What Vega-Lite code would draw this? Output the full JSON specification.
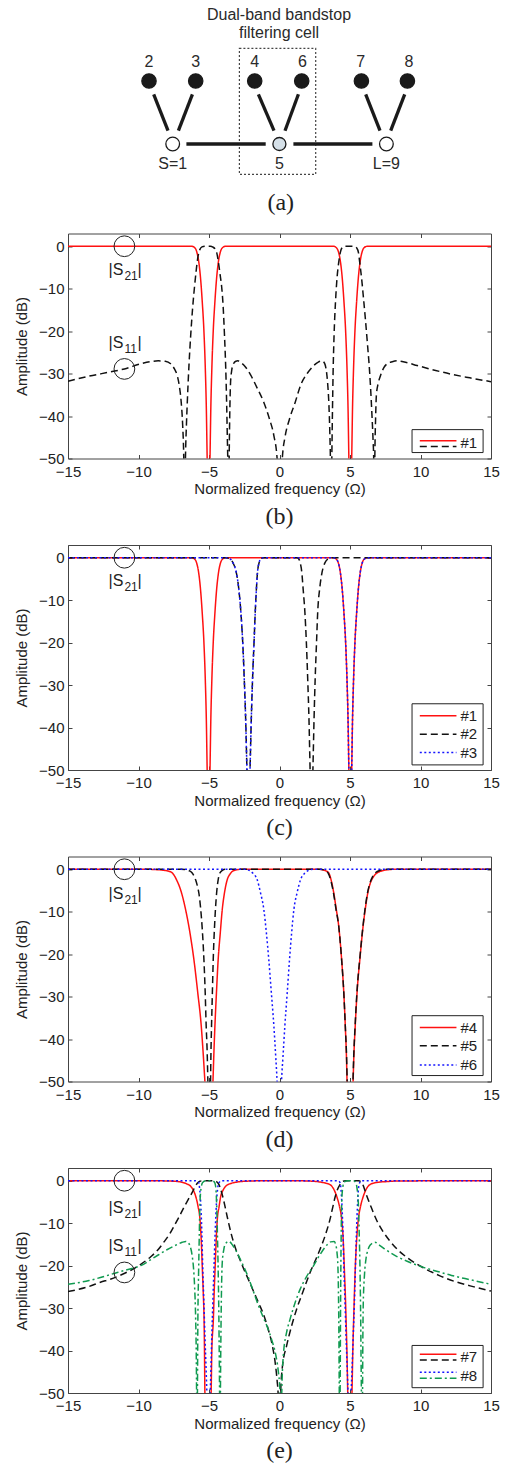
{
"$schema": "https://vega.github.io/schema/vega-lite/v6.json",
"padding": {"left": 14, "top": 0, "right": 5, "bottom": 5},
"background": "white",
"spacing": 15.5,
"config": {
  "view": {"stroke": null},
  "font": "Liberation Sans",
  "axis": {"labelFont": "Liberation Sans", "labelFontSize": 15, "labelColor": "#222", "titleFont": "Liberation Sans", "titleFontSize": 15, "titleFontWeight": "normal", "titleColor": "#222", "domainColor": "#444", "tickColor": "#444", "grid": false, "tickSize": -4},
  "text": {"font": "Liberation Sans", "color": "#222"}
},
"datasets": {
  "nodes": [
    {"id": "2", "kind": "res", "x": 8.10, "y": 8.1},
    {"id": "3", "kind": "res", "x": 12.77, "y": 8.1},
    {"id": "4", "kind": "res", "x": 18.67, "y": 8.1},
    {"id": "6", "kind": "res", "x": 23.37, "y": 8.1},
    {"id": "7", "kind": "res", "x": 29.34, "y": 8.1},
    {"id": "8", "kind": "res", "x": 33.94, "y": 8.1},
    {"id": "S", "kind": "port", "x": 10.47, "y": 14.4},
    {"id": "5", "kind": "nrn", "x": 21.14, "y": 14.4},
    {"id": "L", "kind": "port", "x": 31.84, "y": 14.4}
  ],
  "edges": [
    {"e": "2-S", "x": 8.57, "y": 9.43, "x2": 10.0, "y2": 13.07},
    {"e": "3-S", "x": 12.44, "y": 9.43, "x2": 11.04, "y2": 13.07},
    {"e": "4-5", "x": 19.04, "y": 9.43, "x2": 20.6, "y2": 13.07},
    {"e": "6-5", "x": 23.04, "y": 9.43, "x2": 21.7, "y2": 13.07},
    {"e": "7-L", "x": 29.77, "y": 9.43, "x2": 31.2, "y2": 13.07},
    {"e": "8-L", "x": 33.67, "y": 9.43, "x2": 32.27, "y2": 13.07},
    {"e": "S-5", "x": 11.84, "y": 14.4, "x2": 19.77, "y2": 14.4},
    {"e": "5-L", "x": 22.54, "y": 14.4, "x2": 30.44, "y2": 14.4}
  ],
  "labels": [
    {"t": "Dual-band bandstop", "x": 21.1, "y": 1.5},
    {"t": "filtering cell", "x": 21.1, "y": 3.33},
    {"t": "2", "x": 8.1, "y": 6.2},
    {"t": "3", "x": 12.77, "y": 6.2},
    {"t": "4", "x": 18.67, "y": 6.2},
    {"t": "6", "x": 23.44, "y": 6.2},
    {"t": "7", "x": 29.27, "y": 6.2},
    {"t": "8", "x": 34.1, "y": 6.2},
    {"t": "S=1", "x": 10.47, "y": 16.35},
    {"t": "5", "x": 21.14, "y": 16.35},
    {"t": "L=9", "x": 31.84, "y": 16.35}
  ],
  "curves": [
{"s":"1s21","x":-15,"y":0},{"s":"1s21","x":-8,"y":0},{"s":"1s21","x":-6.23,"y":0},{"s":"1s21","x":-6.03,"y":-0.3},{"s":"1s21","x":-5.88,"y":-1.2},{"s":"1s21","x":-5.73,"y":-3.6},{"s":"1s21","x":-5.6,"y":-7.5},{"s":"1s21","x":-5.48,"y":-13},{"s":"1s21","x":-5.36,"y":-20},{"s":"1s21","x":-5.26,"y":-29},{"s":"1s21","x":-5.19,"y":-38},{"s":"1s21","x":-5.13,"y":-50},{"s":"1s21","x":-5.03,"y":-65},{"s":"1s21","x":-4.93,"y":-50},{"s":"1s21","x":-4.87,"y":-38},{"s":"1s21","x":-4.8,"y":-29},{"s":"1s21","x":-4.7,"y":-20},{"s":"1s21","x":-4.58,"y":-13},{"s":"1s21","x":-4.46,"y":-7.5},{"s":"1s21","x":-4.33,"y":-3.6},{"s":"1s21","x":-4.18,"y":-1.2},{"s":"1s21","x":-4.03,"y":-0.3},{"s":"1s21","x":-3.83,"y":0},{"s":"1s21","x":0,"y":0},{"s":"1s21","x":3.82,"y":0},{"s":"1s21","x":4.02,"y":-0.3},{"s":"1s21","x":4.17,"y":-1.2},{"s":"1s21","x":4.32,"y":-3.6},{"s":"1s21","x":4.45,"y":-7.5},{"s":"1s21","x":4.57,"y":-13},{"s":"1s21","x":4.69,"y":-20},{"s":"1s21","x":4.79,"y":-29},{"s":"1s21","x":4.86,"y":-38},{"s":"1s21","x":4.92,"y":-50},{"s":"1s21","x":5.02,"y":-65},{"s":"1s21","x":5.12,"y":-50},{"s":"1s21","x":5.18,"y":-38},{"s":"1s21","x":5.25,"y":-29},{"s":"1s21","x":5.35,"y":-20},{"s":"1s21","x":5.47,"y":-13},{"s":"1s21","x":5.59,"y":-7.5},{"s":"1s21","x":5.72,"y":-3.6},{"s":"1s21","x":5.87,"y":-1.2},{"s":"1s21","x":6.02,"y":-0.3},{"s":"1s21","x":6.22,"y":0},{"s":"1s21","x":15,"y":0},
{"s":"1s11","x":-15,"y":-31.8},{"s":"1s11","x":-13.5,"y":-30.6},{"s":"1s11","x":-12,"y":-29.6},{"s":"1s11","x":-11,"y":-28.9},{"s":"1s11","x":-9.85,"y":-27.7},{"s":"1s11","x":-9.2,"y":-27.2},{"s":"1s11","x":-8.6,"y":-27.0},{"s":"1s11","x":-8.1,"y":-27.1},{"s":"1s11","x":-7.72,"y":-27.7},{"s":"1s11","x":-7.45,"y":-28.9},{"s":"1s11","x":-7.25,"y":-30.5},{"s":"1s11","x":-7.1,"y":-33},{"s":"1s11","x":-6.97,"y":-36.8},{"s":"1s11","x":-6.87,"y":-42},{"s":"1s11","x":-6.79,"y":-50},{"s":"1s11","x":-6.73,"y":-65},{"s":"1s11","x":-6.67,"y":-50},{"s":"1s11","x":-6.6,"y":-42},{"s":"1s11","x":-6.54,"y":-36.8},{"s":"1s11","x":-6.42,"y":-28},{"s":"1s11","x":-6.3,"y":-21.1},{"s":"1s11","x":-6.16,"y":-14.5},{"s":"1s11","x":-6.02,"y":-9.3},{"s":"1s11","x":-5.9,"y":-5.5},{"s":"1s11","x":-5.79,"y":-2.6},{"s":"1s11","x":-5.65,"y":-0.8},{"s":"1s11","x":-5.5,"y":-0.15},{"s":"1s11","x":-5.3,"y":0},{"s":"1s11","x":-4.9,"y":0},{"s":"1s11","x":-4.72,"y":-0.2},{"s":"1s11","x":-4.58,"y":-0.6},{"s":"1s11","x":-4.46,"y":-1.4},{"s":"1s11","x":-4.3,"y":-4.5},{"s":"1s11","x":-4.2,"y":-7},{"s":"1s11","x":-4.11,"y":-9.3},{"s":"1s11","x":-4.0,"y":-14},{"s":"1s11","x":-3.9,"y":-21.1},{"s":"1s11","x":-3.82,"y":-28},{"s":"1s11","x":-3.75,"y":-36.8},{"s":"1s11","x":-3.7,"y":-45},{"s":"1s11","x":-3.67,"y":-50},{"s":"1s11","x":-3.62,"y":-65},{"s":"1s11","x":-3.57,"y":-50},{"s":"1s11","x":-3.53,"y":-40},{"s":"1s11","x":-3.47,"y":-32},{"s":"1s11","x":-3.4,"y":-29.5},{"s":"1s11","x":-3.28,"y":-27.8},{"s":"1s11","x":-3.1,"y":-27.1},{"s":"1s11","x":-2.95,"y":-27.0},{"s":"1s11","x":-2.7,"y":-27.5},{"s":"1s11","x":-2.4,"y":-28.5},{"s":"1s11","x":-2.05,"y":-30.3},{"s":"1s11","x":-1.6,"y":-33.3},{"s":"1s11","x":-1.11,"y":-36.8},{"s":"1s11","x":-0.7,"y":-40.8},{"s":"1s11","x":-0.4,"y":-44.6},{"s":"1s11","x":-0.17,"y":-50},{"s":"1s11","x":0.02,"y":-65},{"s":"1s11","x":0.2,"y":-50},{"s":"1s11","x":0.4,"y":-44.8},{"s":"1s11","x":0.7,"y":-40.8},{"s":"1s11","x":1.11,"y":-36.8},{"s":"1s11","x":1.49,"y":-32.8},{"s":"1s11","x":2.0,"y":-29.8},{"s":"1s11","x":2.4,"y":-28.2},{"s":"1s11","x":2.75,"y":-27.3},{"s":"1s11","x":3.03,"y":-27.0},{"s":"1s11","x":3.2,"y":-27.6},{"s":"1s11","x":3.33,"y":-29.5},{"s":"1s11","x":3.42,"y":-32.5},{"s":"1s11","x":3.5,"y":-37},{"s":"1s11","x":3.57,"y":-44},{"s":"1s11","x":3.61,"y":-50},{"s":"1s11","x":3.66,"y":-65},{"s":"1s11","x":3.71,"y":-50},{"s":"1s11","x":3.76,"y":-38},{"s":"1s11","x":3.8,"y":-30},{"s":"1s11","x":3.87,"y":-21},{"s":"1s11","x":3.97,"y":-13.2},{"s":"1s11","x":4.08,"y":-7.5},{"s":"1s11","x":4.2,"y":-3.8},{"s":"1s11","x":4.32,"y":-1.4},{"s":"1s11","x":4.45,"y":-0.3},{"s":"1s11","x":4.6,"y":0},{"s":"1s11","x":5.3,"y":0},{"s":"1s11","x":5.48,"y":-0.4},{"s":"1s11","x":5.6,"y":-1.5},{"s":"1s11","x":5.69,"y":-3.8},{"s":"1s11","x":5.82,"y":-7.5},{"s":"1s11","x":5.95,"y":-12},{"s":"1s11","x":6.09,"y":-17.1},{"s":"1s11","x":6.25,"y":-23.5},{"s":"1s11","x":6.38,"y":-29},{"s":"1s11","x":6.47,"y":-34},{"s":"1s11","x":6.56,"y":-40},{"s":"1s11","x":6.64,"y":-46},{"s":"1s11","x":6.68,"y":-50},{"s":"1s11","x":6.72,"y":-65},{"s":"1s11","x":6.76,"y":-50},{"s":"1s11","x":6.82,"y":-40},{"s":"1s11","x":6.87,"y":-35.1},{"s":"1s11","x":7.0,"y":-32.3},{"s":"1s11","x":7.16,"y":-30.5},{"s":"1s11","x":7.4,"y":-28.6},{"s":"1s11","x":7.63,"y":-27.7},{"s":"1s11","x":8.0,"y":-27.2},{"s":"1s11","x":8.34,"y":-27.0},{"s":"1s11","x":9.0,"y":-27.4},{"s":"1s11","x":9.76,"y":-28.1},{"s":"1s11","x":11,"y":-29.2},{"s":"1s11","x":12.12,"y":-30.1},{"s":"1s11","x":13.5,"y":-31.0},{"s":"1s11","x":15,"y":-31.9},
{"s":"2s21","x":-15,"y":0},{"s":"2s21","x":-3.8,"y":0},{"s":"2s21","x":-3.5,"y":-0.3},{"s":"2s21","x":-3.3,"y":-1.2},{"s":"2s21","x":-3.07,"y":-3.4},{"s":"2s21","x":-2.9,"y":-7},{"s":"2s21","x":-2.74,"y":-12.8},{"s":"2s21","x":-2.6,"y":-20.5},{"s":"2s21","x":-2.5,"y":-28.5},{"s":"2s21","x":-2.4,"y":-38},{"s":"2s21","x":-2.31,"y":-50},{"s":"2s21","x":-2.2,"y":-65},{"s":"2s21","x":-2.09,"y":-50},{"s":"2s21","x":-2.0,"y":-38},{"s":"2s21","x":-1.91,"y":-28.5},{"s":"2s21","x":-1.8,"y":-19.5},{"s":"2s21","x":-1.72,"y":-12.8},{"s":"2s21","x":-1.64,"y":-7.5},{"s":"2s21","x":-1.56,"y":-3.4},{"s":"2s21","x":-1.45,"y":-1.2},{"s":"2s21","x":-1.33,"y":-0.3},{"s":"2s21","x":-1.15,"y":0},{"s":"2s21","x":1.25,"y":0},{"s":"2s21","x":1.37,"y":-0.3},{"s":"2s21","x":1.47,"y":-1.2},{"s":"2s21","x":1.58,"y":-3.4},{"s":"2s21","x":1.68,"y":-7.5},{"s":"2s21","x":1.8,"y":-12.8},{"s":"2s21","x":1.9,"y":-19.5},{"s":"2s21","x":2.0,"y":-28.5},{"s":"2s21","x":2.09,"y":-38},{"s":"2s21","x":2.17,"y":-50},{"s":"2s21","x":2.27,"y":-65},{"s":"2s21","x":2.37,"y":-50},{"s":"2s21","x":2.45,"y":-38},{"s":"2s21","x":2.53,"y":-28.5},{"s":"2s21","x":2.62,"y":-20.5},{"s":"2s21","x":2.71,"y":-12.8},{"s":"2s21","x":2.86,"y":-7},{"s":"2s21","x":3.02,"y":-3.4},{"s":"2s21","x":3.22,"y":-1.2},{"s":"2s21","x":3.42,"y":-0.3},{"s":"2s21","x":3.7,"y":0},{"s":"2s21","x":15,"y":0},
{"s":"3s21","x":-15,"y":0},{"s":"3s21","x":-3.8,"y":0},{"s":"3s21","x":-3.5,"y":-0.3},{"s":"3s21","x":-3.3,"y":-1.2},{"s":"3s21","x":-3.07,"y":-3.4},{"s":"3s21","x":-2.9,"y":-7},{"s":"3s21","x":-2.74,"y":-12.8},{"s":"3s21","x":-2.6,"y":-20.5},{"s":"3s21","x":-2.5,"y":-28.5},{"s":"3s21","x":-2.4,"y":-38},{"s":"3s21","x":-2.31,"y":-50},{"s":"3s21","x":-2.2,"y":-65},{"s":"3s21","x":-2.09,"y":-50},{"s":"3s21","x":-2.0,"y":-38},{"s":"3s21","x":-1.91,"y":-28.5},{"s":"3s21","x":-1.8,"y":-19.5},{"s":"3s21","x":-1.72,"y":-12.8},{"s":"3s21","x":-1.64,"y":-7.5},{"s":"3s21","x":-1.56,"y":-3.4},{"s":"3s21","x":-1.45,"y":-1.2},{"s":"3s21","x":-1.33,"y":-0.3},{"s":"3s21","x":-1.15,"y":0},{"s":"3s21","x":3.82,"y":0},{"s":"3s21","x":4.02,"y":-0.3},{"s":"3s21","x":4.17,"y":-1.2},{"s":"3s21","x":4.32,"y":-3.6},{"s":"3s21","x":4.45,"y":-7.5},{"s":"3s21","x":4.57,"y":-13},{"s":"3s21","x":4.69,"y":-20},{"s":"3s21","x":4.79,"y":-29},{"s":"3s21","x":4.86,"y":-38},{"s":"3s21","x":4.92,"y":-50},{"s":"3s21","x":5.02,"y":-65},{"s":"3s21","x":5.12,"y":-50},{"s":"3s21","x":5.18,"y":-38},{"s":"3s21","x":5.25,"y":-29},{"s":"3s21","x":5.35,"y":-20},{"s":"3s21","x":5.47,"y":-13},{"s":"3s21","x":5.59,"y":-7.5},{"s":"3s21","x":5.72,"y":-3.6},{"s":"3s21","x":5.87,"y":-1.2},{"s":"3s21","x":6.02,"y":-0.3},{"s":"3s21","x":6.22,"y":0},{"s":"3s21","x":15,"y":0},
{"s":"4s21","x":-15,"y":0},{"s":"4s21","x":-9.5,"y":0},{"s":"4s21","x":-8.7,"y":-0.1},{"s":"4s21","x":-8.2,"y":-0.25},{"s":"4s21","x":-7.72,"y":-0.6},{"s":"4s21","x":-7.5,"y":-1.3},{"s":"4s21","x":-7.3,"y":-2.5},{"s":"4s21","x":-7.0,"y":-5.0},{"s":"4s21","x":-6.66,"y":-9.5},{"s":"4s21","x":-6.35,"y":-15},{"s":"4s21","x":-6.07,"y":-21.3},{"s":"4s21","x":-5.8,"y":-29},{"s":"4s21","x":-5.55,"y":-36.9},{"s":"4s21","x":-5.42,"y":-43},{"s":"4s21","x":-5.29,"y":-50},{"s":"4s21","x":-5.0,"y":-65},{"s":"4s21","x":-4.72,"y":-50},{"s":"4s21","x":-4.65,"y":-43},{"s":"4s21","x":-4.58,"y":-36.9},{"s":"4s21","x":-4.47,"y":-29},{"s":"4s21","x":-4.35,"y":-21.3},{"s":"4s21","x":-4.2,"y":-15},{"s":"4s21","x":-4.06,"y":-9.5},{"s":"4s21","x":-3.9,"y":-5.5},{"s":"4s21","x":-3.71,"y":-2.5},{"s":"4s21","x":-3.5,"y":-1.1},{"s":"4s21","x":-3.3,"y":-0.4},{"s":"4s21","x":-3.0,"y":-0.1},{"s":"4s21","x":-2.6,"y":0},{"s":"4s21","x":2.6,"y":0},{"s":"4s21","x":3.02,"y":-0.1},{"s":"4s21","x":3.3,"y":-0.4},{"s":"4s21","x":3.5,"y":-0.9},{"s":"4s21","x":3.68,"y":-2.8},{"s":"4s21","x":3.85,"y":-5.6},{"s":"4s21","x":4.02,"y":-9.3},{"s":"4s21","x":4.2,"y":-13.4},{"s":"4s21","x":4.4,"y":-21},{"s":"4s21","x":4.56,"y":-29.1},{"s":"4s21","x":4.68,"y":-38},{"s":"4s21","x":4.75,"y":-44.4},{"s":"4s21","x":4.79,"y":-50},{"s":"4s21","x":5.0,"y":-65},{"s":"4s21","x":5.22,"y":-50},{"s":"4s21","x":5.27,"y":-44.4},{"s":"4s21","x":5.37,"y":-37},{"s":"4s21","x":5.5,"y":-29.1},{"s":"4s21","x":5.72,"y":-20.5},{"s":"4s21","x":5.93,"y":-13.4},{"s":"4s21","x":6.1,"y":-9.0},{"s":"4s21","x":6.26,"y":-5.6},{"s":"4s21","x":6.45,"y":-3.2},{"s":"4s21","x":6.68,"y":-1.7},{"s":"4s21","x":6.9,"y":-0.9},{"s":"4s21","x":7.16,"y":-0.5},{"s":"4s21","x":7.6,"y":-0.15},{"s":"4s21","x":8.3,"y":0},{"s":"4s21","x":15,"y":0},
{"s":"5s21","x":-15,"y":0},{"s":"5s21","x":-7,"y":0},{"s":"5s21","x":-6.6,"y":-0.1},{"s":"5s21","x":-6.38,"y":-0.4},{"s":"5s21","x":-6.19,"y":-0.9},{"s":"5s21","x":-5.95,"y":-2.5},{"s":"5s21","x":-5.82,"y":-4},{"s":"5s21","x":-5.72,"y":-5.6},{"s":"5s21","x":-5.6,"y":-9},{"s":"5s21","x":-5.48,"y":-14},{"s":"5s21","x":-5.36,"y":-21.3},{"s":"5s21","x":-5.27,"y":-29},{"s":"5s21","x":-5.2,"y":-36.9},{"s":"5s21","x":-5.13,"y":-43},{"s":"5s21","x":-5.08,"y":-50},{"s":"5s21","x":-4.985,"y":-65},{"s":"5s21","x":-4.89,"y":-50},{"s":"5s21","x":-4.86,"y":-43},{"s":"5s21","x":-4.82,"y":-36.9},{"s":"5s21","x":-4.76,"y":-29},{"s":"5s21","x":-4.7,"y":-21.3},{"s":"5s21","x":-4.6,"y":-13},{"s":"5s21","x":-4.46,"y":-5.6},{"s":"5s21","x":-4.35,"y":-2.5},{"s":"5s21","x":-4.23,"y":-0.9},{"s":"5s21","x":-4.05,"y":-0.25},{"s":"5s21","x":-3.83,"y":0},{"s":"5s21","x":2.9,"y":0},{"s":"5s21","x":3.25,"y":-0.3},{"s":"5s21","x":3.45,"y":-0.9},{"s":"5s21","x":3.65,"y":-2.8},{"s":"5s21","x":3.83,"y":-5.6},{"s":"5s21","x":4.0,"y":-9.3},{"s":"5s21","x":4.2,"y":-13.4},{"s":"5s21","x":4.4,"y":-21},{"s":"5s21","x":4.56,"y":-29.1},{"s":"5s21","x":4.68,"y":-38},{"s":"5s21","x":4.76,"y":-44.4},{"s":"5s21","x":4.8,"y":-50},{"s":"5s21","x":5.01,"y":-65},{"s":"5s21","x":5.21,"y":-50},{"s":"5s21","x":5.26,"y":-44.4},{"s":"5s21","x":5.36,"y":-37},{"s":"5s21","x":5.49,"y":-29.1},{"s":"5s21","x":5.71,"y":-20.5},{"s":"5s21","x":5.92,"y":-13.4},{"s":"5s21","x":6.08,"y":-9.0},{"s":"5s21","x":6.24,"y":-5.6},{"s":"5s21","x":6.42,"y":-3.2},{"s":"5s21","x":6.62,"y":-1.6},{"s":"5s21","x":6.85,"y":-0.7},{"s":"5s21","x":7.1,"y":-0.3},{"s":"5s21","x":7.6,"y":0},{"s":"5s21","x":15,"y":0},
{"s":"6s21","x":-15,"y":0},{"s":"6s21","x":-2.5,"y":0},{"s":"6s21","x":-2.2,"y":-0.2},{"s":"6s21","x":-1.9,"y":-0.9},{"s":"6s21","x":-1.58,"y":-2.5},{"s":"6s21","x":-1.35,"y":-5.5},{"s":"6s21","x":-1.11,"y":-9.5},{"s":"6s21","x":-0.93,"y":-15},{"s":"6s21","x":-0.76,"y":-21.3},{"s":"6s21","x":-0.58,"y":-29},{"s":"6s21","x":-0.4,"y":-36.9},{"s":"6s21","x":-0.27,"y":-44},{"s":"6s21","x":-0.17,"y":-50},{"s":"6s21","x":-0.015,"y":-65},{"s":"6s21","x":0.14,"y":-50},{"s":"6s21","x":0.25,"y":-44},{"s":"6s21","x":0.38,"y":-36.9},{"s":"6s21","x":0.55,"y":-29},{"s":"6s21","x":0.71,"y":-21.3},{"s":"6s21","x":0.86,"y":-15},{"s":"6s21","x":1.02,"y":-9.5},{"s":"6s21","x":1.25,"y":-5.5},{"s":"6s21","x":1.49,"y":-2.5},{"s":"6s21","x":1.8,"y":-0.9},{"s":"6s21","x":2.1,"y":-0.2},{"s":"6s21","x":2.4,"y":0},{"s":"6s21","x":15,"y":0},
{"s":"7s21","x":-15,"y":0},{"s":"7s21","x":-9,"y":0},{"s":"7s21","x":-7.6,"y":-0.1},{"s":"7s21","x":-7.0,"y":-0.3},{"s":"7s21","x":-6.6,"y":-0.7},{"s":"7s21","x":-6.3,"y":-1.3},{"s":"7s21","x":-6.1,"y":-2.3},{"s":"7s21","x":-5.94,"y":-3.7},{"s":"7s21","x":-5.78,"y":-6},{"s":"7s21","x":-5.64,"y":-9.1},{"s":"7s21","x":-5.55,"y":-14},{"s":"7s21","x":-5.47,"y":-20.9},{"s":"7s21","x":-5.4,"y":-27},{"s":"7s21","x":-5.35,"y":-32.6},{"s":"7s21","x":-5.32,"y":-40},{"s":"7s21","x":-5.29,"y":-50},{"s":"7s21","x":-5.07,"y":-65},{"s":"7s21","x":-4.85,"y":-50},{"s":"7s21","x":-4.8,"y":-40},{"s":"7s21","x":-4.69,"y":-32.6},{"s":"7s21","x":-4.63,"y":-26},{"s":"7s21","x":-4.57,"y":-20.9},{"s":"7s21","x":-4.49,"y":-14},{"s":"7s21","x":-4.41,"y":-9.1},{"s":"7s21","x":-4.28,"y":-6},{"s":"7s21","x":-4.17,"y":-3.7},{"s":"7s21","x":-4.0,"y":-2.2},{"s":"7s21","x":-3.82,"y":-1.3},{"s":"7s21","x":-3.5,"y":-0.7},{"s":"7s21","x":-3.0,"y":-0.3},{"s":"7s21","x":-2.3,"y":-0.1},{"s":"7s21","x":-1,"y":0},{"s":"7s21","x":1,"y":0},{"s":"7s21","x":2.3,"y":-0.1},{"s":"7s21","x":2.87,"y":-0.3},{"s":"7s21","x":3.3,"y":-0.6},{"s":"7s21","x":3.58,"y":-0.9},{"s":"7s21","x":3.85,"y":-2},{"s":"7s21","x":4.06,"y":-3.7},{"s":"7s21","x":4.25,"y":-6},{"s":"7s21","x":4.41,"y":-9.1},{"s":"7s21","x":4.52,"y":-14},{"s":"7s21","x":4.6,"y":-20.9},{"s":"7s21","x":4.67,"y":-27},{"s":"7s21","x":4.72,"y":-32.6},{"s":"7s21","x":4.78,"y":-40},{"s":"7s21","x":4.84,"y":-50},{"s":"7s21","x":4.99,"y":-65},{"s":"7s21","x":5.14,"y":-50},{"s":"7s21","x":5.2,"y":-40},{"s":"7s21","x":5.26,"y":-32.6},{"s":"7s21","x":5.31,"y":-27},{"s":"7s21","x":5.37,"y":-20.9},{"s":"7s21","x":5.47,"y":-14},{"s":"7s21","x":5.59,"y":-9.1},{"s":"7s21","x":5.75,"y":-6},{"s":"7s21","x":5.94,"y":-3.7},{"s":"7s21","x":6.15,"y":-2.0},{"s":"7s21","x":6.42,"y":-0.9},{"s":"7s21","x":6.9,"y":-0.4},{"s":"7s21","x":7.6,"y":-0.2},{"s":"7s21","x":8.5,"y":-0.05},{"s":"7s21","x":15,"y":0},
{"s":"7s11","x":-15,"y":-26.1},{"s":"7s11","x":-13.5,"y":-24.9},{"s":"7s11","x":-12.7,"y":-23.9},{"s":"7s11","x":-12,"y":-23.2},{"s":"7s11","x":-10.98,"y":-21.8},{"s":"7s11","x":-9.84,"y":-19.7},{"s":"7s11","x":-9.13,"y":-17.9},{"s":"7s11","x":-8.6,"y":-16.2},{"s":"7s11","x":-8.19,"y":-14.4},{"s":"7s11","x":-7.8,"y":-12.6},{"s":"7s11","x":-7.48,"y":-10.7},{"s":"7s11","x":-7.1,"y":-8.4},{"s":"7s11","x":-6.77,"y":-6.2},{"s":"7s11","x":-6.45,"y":-4.3},{"s":"7s11","x":-6.18,"y":-2.7},{"s":"7s11","x":-6.0,"y":-1.5},{"s":"7s11","x":-5.83,"y":-0.6},{"s":"7s11","x":-5.65,"y":-0.1},{"s":"7s11","x":-5.4,"y":0},{"s":"7s11","x":-4.6,"y":0},{"s":"7s11","x":-4.35,"y":-0.6},{"s":"7s11","x":-4.2,"y":-1.7},{"s":"7s11","x":-4.06,"y":-3.3},{"s":"7s11","x":-3.9,"y":-5.5},{"s":"7s11","x":-3.7,"y":-8.6},{"s":"7s11","x":-3.4,"y":-12.8},{"s":"7s11","x":-3.11,"y":-16.0},{"s":"7s11","x":-2.8,"y":-18.6},{"s":"7s11","x":-2.52,"y":-20.9},{"s":"7s11","x":-2.2,"y":-23.3},{"s":"7s11","x":-1.81,"y":-26.3},{"s":"7s11","x":-1.45,"y":-29},{"s":"7s11","x":-1.1,"y":-31.8},{"s":"7s11","x":-0.8,"y":-35},{"s":"7s11","x":-0.51,"y":-38.8},{"s":"7s11","x":-0.3,"y":-43},{"s":"7s11","x":-0.16,"y":-47.4},{"s":"7s11","x":-0.1,"y":-50},{"s":"7s11","x":0.0,"y":-65},{"s":"7s11","x":0.08,"y":-50},{"s":"7s11","x":0.2,"y":-44},{"s":"7s11","x":0.51,"y":-38.8},{"s":"7s11","x":0.85,"y":-34.3},{"s":"7s11","x":1.22,"y":-30.2},{"s":"7s11","x":1.7,"y":-25.8},{"s":"7s11","x":2.17,"y":-21.6},{"s":"7s11","x":2.5,"y":-19.1},{"s":"7s11","x":2.87,"y":-16.2},{"s":"7s11","x":3.25,"y":-12.8},{"s":"7s11","x":3.58,"y":-9.1},{"s":"7s11","x":3.78,"y":-6.2},{"s":"7s11","x":3.94,"y":-3.9},{"s":"7s11","x":4.12,"y":-2.0},{"s":"7s11","x":4.29,"y":-0.9},{"s":"7s11","x":4.45,"y":-0.2},{"s":"7s11","x":4.7,"y":0},{"s":"7s11","x":5.6,"y":0},{"s":"7s11","x":5.83,"y":-0.4},{"s":"7s11","x":6.0,"y":-1.7},{"s":"7s11","x":6.18,"y":-3.5},{"s":"7s11","x":6.45,"y":-5.8},{"s":"7s11","x":6.89,"y":-9.3},{"s":"7s11","x":7.35,"y":-12},{"s":"7s11","x":7.83,"y":-14.2},{"s":"7s11","x":8.4,"y":-16.3},{"s":"7s11","x":9.01,"y":-18.0},{"s":"7s11","x":10.2,"y":-20.5},{"s":"7s11","x":11.38,"y":-22.4},{"s":"7s11","x":12.5,"y":-23.8},{"s":"7s11","x":13.8,"y":-25.0},{"s":"7s11","x":15,"y":-26.0},
{"s":"8s21","x":-15,"y":0},{"s":"8s21","x":-6,"y":0},{"s":"8s21","x":-5.75,"y":-0.3},{"s":"8s21","x":-5.66,"y":-2},{"s":"8s21","x":-5.59,"y":-5.2},{"s":"8s21","x":-5.51,"y":-12},{"s":"8s21","x":-5.44,"y":-20.9},{"s":"8s21","x":-5.36,"y":-29},{"s":"8s21","x":-5.29,"y":-36.5},{"s":"8s21","x":-5.21,"y":-44},{"s":"8s21","x":-5.15,"y":-50},{"s":"8s21","x":-5.03,"y":-65},{"s":"8s21","x":-4.91,"y":-50},{"s":"8s21","x":-4.86,"y":-44},{"s":"8s21","x":-4.8,"y":-36.5},{"s":"8s21","x":-4.73,"y":-29},{"s":"8s21","x":-4.65,"y":-20.9},{"s":"8s21","x":-4.56,"y":-12},{"s":"8s21","x":-4.47,"y":-5.2},{"s":"8s21","x":-4.39,"y":-2},{"s":"8s21","x":-4.3,"y":-0.5},{"s":"8s21","x":-4.1,"y":0},{"s":"8s21","x":4.15,"y":0},{"s":"8s21","x":4.3,"y":-0.5},{"s":"8s21","x":4.36,"y":-2},{"s":"8s21","x":4.42,"y":-5.2},{"s":"8s21","x":4.5,"y":-12},{"s":"8s21","x":4.57,"y":-20.9},{"s":"8s21","x":4.65,"y":-29},{"s":"8s21","x":4.72,"y":-36.5},{"s":"8s21","x":4.8,"y":-44},{"s":"8s21","x":4.86,"y":-50},{"s":"8s21","x":4.97,"y":-65},{"s":"8s21","x":5.08,"y":-50},{"s":"8s21","x":5.15,"y":-44},{"s":"8s21","x":5.23,"y":-36.5},{"s":"8s21","x":5.31,"y":-29},{"s":"8s21","x":5.38,"y":-20.9},{"s":"8s21","x":5.46,"y":-12},{"s":"8s21","x":5.54,"y":-5.2},{"s":"8s21","x":5.6,"y":-2},{"s":"8s21","x":5.68,"y":-0.5},{"s":"8s21","x":5.85,"y":0},{"s":"8s21","x":15,"y":0},
{"s":"8s11","x":-15,"y":-24.4},{"s":"8s11","x":-13.5,"y":-23.5},{"s":"8s11","x":-12.7,"y":-22.8},{"s":"8s11","x":-11.5,"y":-21.6},{"s":"8s11","x":-10.3,"y":-20.5},{"s":"8s11","x":-9.84,"y":-20.0},{"s":"8s11","x":-8.9,"y":-18.1},{"s":"8s11","x":-7.95,"y":-16.2},{"s":"8s11","x":-7.24,"y":-15.0},{"s":"8s11","x":-6.9,"y":-14.5},{"s":"8s11","x":-6.65,"y":-14.3},{"s":"8s11","x":-6.45,"y":-14.7},{"s":"8s11","x":-6.32,"y":-15.6},{"s":"8s11","x":-6.2,"y":-17.5},{"s":"8s11","x":-6.1,"y":-20.5},{"s":"8s11","x":-6.02,"y":-25},{"s":"8s11","x":-5.95,"y":-32},{"s":"8s11","x":-5.9,"y":-42},{"s":"8s11","x":-5.88,"y":-50},{"s":"8s11","x":-5.85,"y":-65},{"s":"8s11","x":-5.82,"y":-50},{"s":"8s11","x":-5.79,"y":-33},{"s":"8s11","x":-5.74,"y":-22},{"s":"8s11","x":-5.69,"y":-13},{"s":"8s11","x":-5.64,"y":-5.2},{"s":"8s11","x":-5.55,"y":-1.5},{"s":"8s11","x":-5.45,"y":-0.4},{"s":"8s11","x":-5.2,"y":0},{"s":"8s11","x":-4.8,"y":0},{"s":"8s11","x":-4.6,"y":-0.4},{"s":"8s11","x":-4.53,"y":-1.3},{"s":"8s11","x":-4.46,"y":-5.2},{"s":"8s11","x":-4.4,"y":-13},{"s":"8s11","x":-4.35,"y":-21},{"s":"8s11","x":-4.3,"y":-32},{"s":"8s11","x":-4.27,"y":-42},{"s":"8s11","x":-4.25,"y":-50},{"s":"8s11","x":-4.22,"y":-65},{"s":"8s11","x":-4.19,"y":-50},{"s":"8s11","x":-4.16,"y":-38},{"s":"8s11","x":-4.12,"y":-27},{"s":"8s11","x":-4.06,"y":-19.3},{"s":"8s11","x":-3.95,"y":-16.2},{"s":"8s11","x":-3.82,"y":-14.8},{"s":"8s11","x":-3.6,"y":-14.3},{"s":"8s11","x":-3.3,"y":-15.3},{"s":"8s11","x":-2.99,"y":-17.1},{"s":"8s11","x":-2.6,"y":-19.8},{"s":"8s11","x":-2.28,"y":-22.2},{"s":"8s11","x":-1.9,"y":-25.6},{"s":"8s11","x":-1.58,"y":-28.6},{"s":"8s11","x":-1.2,"y":-31.8},{"s":"8s11","x":-0.87,"y":-34.4},{"s":"8s11","x":-0.55,"y":-37.5},{"s":"8s11","x":-0.28,"y":-40.8},{"s":"8s11","x":-0.1,"y":-44.5},{"s":"8s11","x":0.04,"y":-50},{"s":"8s11","x":0.1,"y":-65},{"s":"8s11","x":0.16,"y":-50},{"s":"8s11","x":0.28,"y":-40.8},{"s":"8s11","x":0.5,"y":-35.8},{"s":"8s11","x":0.75,"y":-32.6},{"s":"8s11","x":1.1,"y":-28.8},{"s":"8s11","x":1.46,"y":-25.6},{"s":"8s11","x":1.9,"y":-22.7},{"s":"8s11","x":2.4,"y":-20.1},{"s":"8s11","x":2.8,"y":-17.8},{"s":"8s11","x":3.11,"y":-16.2},{"s":"8s11","x":3.4,"y":-15.0},{"s":"8s11","x":3.62,"y":-14.4},{"s":"8s11","x":3.87,"y":-14.3},{"s":"8s11","x":4.0,"y":-15.2},{"s":"8s11","x":4.08,"y":-17},{"s":"8s11","x":4.14,"y":-20},{"s":"8s11","x":4.18,"y":-26},{"s":"8s11","x":4.21,"y":-35},{"s":"8s11","x":4.24,"y":-50},{"s":"8s11","x":4.27,"y":-65},{"s":"8s11","x":4.3,"y":-50},{"s":"8s11","x":4.33,"y":-30},{"s":"8s11","x":4.37,"y":-14},{"s":"8s11","x":4.41,"y":-5.2},{"s":"8s11","x":4.49,"y":-1.5},{"s":"8s11","x":4.6,"y":-0.3},{"s":"8s11","x":4.85,"y":0},{"s":"8s11","x":5.25,"y":0},{"s":"8s11","x":5.42,"y":-0.5},{"s":"8s11","x":5.5,"y":-1.8},{"s":"8s11","x":5.59,"y":-5.2},{"s":"8s11","x":5.65,"y":-12},{"s":"8s11","x":5.71,"y":-20.9},{"s":"8s11","x":5.76,"y":-33},{"s":"8s11","x":5.79,"y":-44},{"s":"8s11","x":5.81,"y":-50},{"s":"8s11","x":5.85,"y":-65},{"s":"8s11","x":5.89,"y":-50},{"s":"8s11","x":5.91,"y":-38},{"s":"8s11","x":5.94,"y":-29},{"s":"8s11","x":6.03,"y":-22},{"s":"8s11","x":6.13,"y":-18.5},{"s":"8s11","x":6.27,"y":-16.3},{"s":"8s11","x":6.42,"y":-15.2},{"s":"8s11","x":6.77,"y":-14.5},{"s":"8s11","x":7.1,"y":-15.2},{"s":"8s11","x":7.6,"y":-16.4},{"s":"8s11","x":8.3,"y":-17.8},{"s":"8s11","x":9.01,"y":-18.9},{"s":"8s11","x":10.2,"y":-20.4},{"s":"8s11","x":11.14,"y":-21.3},{"s":"8s11","x":12.2,"y":-22.3},{"s":"8s11","x":13.5,"y":-23.3},{"s":"8s11","x":15,"y":-24.4}
  ]
},
"vconcat": [
  {
    "width": 423, "height": 217,
    "layer": [
      {"data": {"values": [{}]},
       "mark": {"type": "rect", "fillOpacity": 0, "stroke": "#444", "strokeDash": [2, 2], "strokeWidth": 1.2},
       "encoding": {
         "x": {"datum": 17.14, "type": "quantitative", "scale": {"domain": [0, 42.3], "nice": false, "zero": false}, "axis": null},
         "x2": {"datum": 24.77},
         "y": {"datum": 4.83, "type": "quantitative", "scale": {"domain": [0, 21.7], "nice": false, "zero": false, "reverse": true}, "axis": null},
         "y2": {"datum": 17.43}
       }},
      {"data": {"name": "edges"},
       "mark": {"type": "rule", "color": "#1a1a1a", "strokeWidth": 3.3},
       "encoding": {
         "x": {"field": "x", "type": "quantitative", "axis": null},
         "y": {"field": "y", "type": "quantitative", "axis": null},
         "x2": {"field": "x2"}, "y2": {"field": "y2"}
       }},
      {"data": {"name": "nodes"},
       "mark": {"type": "point", "shape": "circle", "filled": true, "stroke": "#1a1a1a", "strokeWidth": 1.3, "opacity": 1},
       "encoding": {
         "x": {"field": "x", "type": "quantitative", "axis": null},
         "y": {"field": "y", "type": "quantitative", "axis": null},
         "fill": {"field": "kind", "type": "nominal", "legend": null, "scale": {"domain": ["res", "port", "nrn"], "range": ["#1a1a1a", "#ffffff", "#d5e0e8"]}},
         "size": {"field": "kind", "type": "nominal", "legend": null, "scale": {"domain": ["res", "port", "nrn"], "range": [205, 170, 170]}}
       }},
      {"data": {"name": "labels"},
       "mark": {"type": "text", "fontSize": 16, "align": "center", "baseline": "middle", "color": "#2a2a2a"},
       "encoding": {
         "x": {"field": "x", "type": "quantitative", "axis": null},
         "y": {"field": "y", "type": "quantitative", "axis": null},
         "text": {"field": "t"}
       }},
      {"data": {"values": [{}]},
       "mark": {"type": "text", "text": "(a)", "font": "Liberation Serif", "fontSize": 24, "align": "center", "baseline": "middle", "color": "#222"},
       "encoding": {
         "x": {"datum": 21.27, "type": "quantitative", "axis": null},
         "y": {"datum": 20.3, "type": "quantitative", "axis": null}
       }}
    ]
  },
  {
    "width": 423, "height": 225,
    "title": {"text": "(b)", "orient": "bottom", "font": "Liberation Serif", "fontSize": 24, "fontWeight": "normal", "color": "#222", "offset": 8},
    "data": {"values": [{}]},
    "layer": [
      {"data": {"name": "curves"}, "transform": [{"filter": {"field": "s", "oneOf": ["1s21", "1s11"]}}],
       "mark": {"type": "line", "clip": true, "strokeWidth": 1.5, "interpolate": "monotone"},
       "encoding": {
         "x": {"field": "x", "type": "quantitative", "scale": {"domain": [-15, 15], "nice": false, "zero": false}, "axis": {"values": [-15, -10, -5, 0, 5, 10, 15], "title": "Normalized frequency (Ω)", "labelPadding": 9.5, "titlePadding": 2.5, "labelFlush": false, "labelOverlap": false, "encode": {"labels": {"update": {"dx": {"signal": "datum.value < 0 ? -6 : 0"}}}}}},
         "y": {"field": "y", "type": "quantitative", "scale": {"domain": [-50, 3], "nice": false, "zero": false}, "axis": {"values": [-50, -40, -30, -20, -10, 0], "title": "Amplitude (dB)", "labelPadding": 8, "titlePadding": 9, "labelOverlap": false}},
         "color": {"field": "s", "type": "nominal", "legend": null, "scale": {"domain": ["1s21", "1s11", "2s21", "3s21", "4s21", "5s21", "6s21", "7s21", "7s11", "8s21", "8s11"], "range": ["#ff1111", "#111111", "#111111", "#1515ff", "#ff1111", "#111111", "#1515ff", "#ff1111", "#111111", "#1515ff", "#109a50"]}},
         "strokeDash": {"field": "s", "type": "nominal", "legend": null, "scale": {"domain": ["1s21", "1s11", "2s21", "3s21", "4s21", "5s21", "6s21", "7s21", "7s11", "8s21", "8s11"], "range": [[1, 0], [7, 4], [7, 4], [2, 2.5], [1, 0], [7, 4], [2, 2.5], [1, 0], [7, 4], [2, 2.5], [7, 3, 2, 3]]}}
       }},
      {"mark": {"type": "point", "shape": "circle", "size": 430, "filled": false, "stroke": "#222", "strokeWidth": 1, "opacity": 1},
       "encoding": {"x": {"datum": -11, "type": "quantitative", "axis": {"orient": "top", "values": [-15, -10, -5, 0, 5, 10, 15], "labels": false, "title": null}}, "y": {"datum": 0, "type": "quantitative", "axis": {"orient": "right", "values": [-50, -40, -30, -20, -10, 0], "labels": false, "title": null}}}},
      {"mark": {"type": "point", "shape": "circle", "size": 430, "filled": false, "stroke": "#222", "strokeWidth": 1, "opacity": 1},
       "encoding": {"x": {"datum": -11, "type": "quantitative", "axis": null}, "y": {"datum": -28.9, "type": "quantitative", "axis": null}}},
      {"mark": {"type": "text", "text": "|S", "align": "right", "baseline": "middle", "dx": -1, "fontSize": 16},
       "encoding": {"x": {"datum": -11, "type": "quantitative", "axis": null}, "y": {"datum": -5.7, "type": "quantitative", "axis": null}}},
      {"mark": {"type": "text", "text": "21", "align": "left", "baseline": "middle", "dx": 0, "dy": 6, "fontSize": 12},
       "encoding": {"x": {"datum": -11, "type": "quantitative", "axis": null}, "y": {"datum": -5.7, "type": "quantitative", "axis": null}}},
      {"mark": {"type": "text", "text": "|", "align": "left", "baseline": "middle", "dx": 13, "fontSize": 16},
       "encoding": {"x": {"datum": -11, "type": "quantitative", "axis": null}, "y": {"datum": -5.7, "type": "quantitative", "axis": null}}},
      {"mark": {"type": "text", "text": "|S", "align": "right", "baseline": "middle", "dx": -1, "fontSize": 16},
       "encoding": {"x": {"datum": -11, "type": "quantitative", "axis": null}, "y": {"datum": -22.9, "type": "quantitative", "axis": null}}},
      {"mark": {"type": "text", "text": "11", "align": "left", "baseline": "middle", "dx": 0, "dy": 6, "fontSize": 12},
       "encoding": {"x": {"datum": -11, "type": "quantitative", "axis": null}, "y": {"datum": -22.9, "type": "quantitative", "axis": null}}},
      {"mark": {"type": "text", "text": "|", "align": "left", "baseline": "middle", "dx": 13, "fontSize": 16},
       "encoding": {"x": {"datum": -11, "type": "quantitative", "axis": null}, "y": {"datum": -22.9, "type": "quantitative", "axis": null}}},
      {"mark": {"type": "rect", "fill": "white", "stroke": "#222", "strokeWidth": 1},
       "encoding": {"x": {"datum": 9.4, "type": "quantitative", "axis": null}, "x2": {"datum": 14.44}, "y": {"datum": -43.2, "type": "quantitative", "axis": null}, "y2": {"datum": -48.6}}},
      {"mark": {"type": "rule", "color": "#ff1111", "strokeWidth": 1.5},
       "encoding": {"x": {"datum": 9.95, "type": "quantitative", "axis": null}, "x2": {"datum": 12.55}, "y": {"datum": -45.8, "type": "quantitative", "axis": null}}},
      {"mark": {"type": "rule", "color": "#111111", "strokeWidth": 1.5, "strokeDash": [7, 4]},
       "encoding": {"x": {"datum": 9.95, "type": "quantitative", "axis": null}, "x2": {"datum": 12.55}, "y": {"datum": -47.2, "type": "quantitative", "axis": null}}},
      {"mark": {"type": "text", "text": "#1", "align": "left", "baseline": "middle", "fontSize": 15},
       "encoding": {"x": {"datum": 12.83, "type": "quantitative", "axis": null}, "y": {"datum": -46.4, "type": "quantitative", "axis": null}}}
    ],
    "resolve": {"axis": {"x": "independent", "y": "independent"}}
  },
  {
    "width": 423, "height": 225,
    "title": {"text": "(c)", "orient": "bottom", "font": "Liberation Serif", "fontSize": 24, "fontWeight": "normal", "color": "#222", "offset": 8},
    "data": {"values": [{}]},
    "layer": [
      {"data": {"name": "curves"}, "transform": [{"filter": {"field": "s", "oneOf": ["1s21", "2s21", "3s21"]}}],
       "mark": {"type": "line", "clip": true, "strokeWidth": 1.5, "interpolate": "monotone"},
       "encoding": {
         "x": {"field": "x", "type": "quantitative", "scale": {"domain": [-15, 15], "nice": false, "zero": false}, "axis": {"values": [-15, -10, -5, 0, 5, 10, 15], "title": "Normalized frequency (Ω)", "labelPadding": 9.5, "titlePadding": 2.5, "labelFlush": false, "labelOverlap": false, "encode": {"labels": {"update": {"dx": {"signal": "datum.value < 0 ? -6 : 0"}}}}}},
         "y": {"field": "y", "type": "quantitative", "scale": {"domain": [-50, 3], "nice": false, "zero": false}, "axis": {"values": [-50, -40, -30, -20, -10, 0], "title": "Amplitude (dB)", "labelPadding": 8, "titlePadding": 9, "labelOverlap": false}},
         "color": {"field": "s", "type": "nominal", "legend": null, "scale": {"domain": ["1s21", "1s11", "2s21", "3s21", "4s21", "5s21", "6s21", "7s21", "7s11", "8s21", "8s11"], "range": ["#ff1111", "#111111", "#111111", "#1515ff", "#ff1111", "#111111", "#1515ff", "#ff1111", "#111111", "#1515ff", "#109a50"]}},
         "strokeDash": {"field": "s", "type": "nominal", "legend": null, "scale": {"domain": ["1s21", "1s11", "2s21", "3s21", "4s21", "5s21", "6s21", "7s21", "7s11", "8s21", "8s11"], "range": [[1, 0], [7, 4], [7, 4], [2, 2.5], [1, 0], [7, 4], [2, 2.5], [1, 0], [7, 4], [2, 2.5], [7, 3, 2, 3]]}}
       }},
      {"mark": {"type": "point", "shape": "circle", "size": 430, "filled": false, "stroke": "#222", "strokeWidth": 1, "opacity": 1},
       "encoding": {"x": {"datum": -11, "type": "quantitative", "axis": {"orient": "top", "values": [-15, -10, -5, 0, 5, 10, 15], "labels": false, "title": null}}, "y": {"datum": 0, "type": "quantitative", "axis": {"orient": "right", "values": [-50, -40, -30, -20, -10, 0], "labels": false, "title": null}}}},
      {"mark": {"type": "text", "text": "|S", "align": "right", "baseline": "middle", "dx": -1, "fontSize": 16},
       "encoding": {"x": {"datum": -11, "type": "quantitative", "axis": null}, "y": {"datum": -5.4, "type": "quantitative", "axis": null}}},
      {"mark": {"type": "text", "text": "21", "align": "left", "baseline": "middle", "dx": 0, "dy": 6, "fontSize": 12},
       "encoding": {"x": {"datum": -11, "type": "quantitative", "axis": null}, "y": {"datum": -5.4, "type": "quantitative", "axis": null}}},
      {"mark": {"type": "text", "text": "|", "align": "left", "baseline": "middle", "dx": 13, "fontSize": 16},
       "encoding": {"x": {"datum": -11, "type": "quantitative", "axis": null}, "y": {"datum": -5.4, "type": "quantitative", "axis": null}}},
      {"mark": {"type": "rect", "fill": "white", "stroke": "#222", "strokeWidth": 1},
       "encoding": {"x": {"datum": 9.4, "type": "quantitative", "axis": null}, "x2": {"datum": 14.44}, "y": {"datum": -34.4, "type": "quantitative", "axis": null}, "y2": {"datum": -48.8}}},
      {"mark": {"type": "rule", "color": "#ff1111", "strokeWidth": 1.5},
       "encoding": {"x": {"datum": 9.95, "type": "quantitative", "axis": null}, "x2": {"datum": 12.55}, "y": {"datum": -37.2, "type": "quantitative", "axis": null}}},
      {"mark": {"type": "rule", "color": "#111111", "strokeWidth": 1.5, "strokeDash": [7, 4]},
       "encoding": {"x": {"datum": 9.95, "type": "quantitative", "axis": null}, "x2": {"datum": 12.55}, "y": {"datum": -41.6, "type": "quantitative", "axis": null}}},
      {"mark": {"type": "rule", "color": "#1515ff", "strokeWidth": 1.5, "strokeDash": [2, 2.5]},
       "encoding": {"x": {"datum": 9.95, "type": "quantitative", "axis": null}, "x2": {"datum": 12.55}, "y": {"datum": -45.9, "type": "quantitative", "axis": null}}},
      {"mark": {"type": "text", "text": "#1", "align": "left", "baseline": "middle", "fontSize": 15},
       "encoding": {"x": {"datum": 12.83, "type": "quantitative", "axis": null}, "y": {"datum": -37.2, "type": "quantitative", "axis": null}}},
      {"mark": {"type": "text", "text": "#2", "align": "left", "baseline": "middle", "fontSize": 15},
       "encoding": {"x": {"datum": 12.83, "type": "quantitative", "axis": null}, "y": {"datum": -41.6, "type": "quantitative", "axis": null}}},
      {"mark": {"type": "text", "text": "#3", "align": "left", "baseline": "middle", "fontSize": 15},
       "encoding": {"x": {"datum": 12.83, "type": "quantitative", "axis": null}, "y": {"datum": -45.9, "type": "quantitative", "axis": null}}}
    ],
    "resolve": {"axis": {"x": "independent", "y": "independent"}}
  },
  {
    "width": 423, "height": 225,
    "title": {"text": "(d)", "orient": "bottom", "font": "Liberation Serif", "fontSize": 24, "fontWeight": "normal", "color": "#222", "offset": 8},
    "data": {"values": [{}]},
    "layer": [
      {"data": {"name": "curves"}, "transform": [{"filter": {"field": "s", "oneOf": ["4s21", "5s21", "6s21"]}}],
       "mark": {"type": "line", "clip": true, "strokeWidth": 1.5, "interpolate": "monotone"},
       "encoding": {
         "x": {"field": "x", "type": "quantitative", "scale": {"domain": [-15, 15], "nice": false, "zero": false}, "axis": {"values": [-15, -10, -5, 0, 5, 10, 15], "title": "Normalized frequency (Ω)", "labelPadding": 9.5, "titlePadding": 2.5, "labelFlush": false, "labelOverlap": false, "encode": {"labels": {"update": {"dx": {"signal": "datum.value < 0 ? -6 : 0"}}}}}},
         "y": {"field": "y", "type": "quantitative", "scale": {"domain": [-50, 3], "nice": false, "zero": false}, "axis": {"values": [-50, -40, -30, -20, -10, 0], "title": "Amplitude (dB)", "labelPadding": 8, "titlePadding": 9, "labelOverlap": false}},
         "color": {"field": "s", "type": "nominal", "legend": null, "scale": {"domain": ["1s21", "1s11", "2s21", "3s21", "4s21", "5s21", "6s21", "7s21", "7s11", "8s21", "8s11"], "range": ["#ff1111", "#111111", "#111111", "#1515ff", "#ff1111", "#111111", "#1515ff", "#ff1111", "#111111", "#1515ff", "#109a50"]}},
         "strokeDash": {"field": "s", "type": "nominal", "legend": null, "scale": {"domain": ["1s21", "1s11", "2s21", "3s21", "4s21", "5s21", "6s21", "7s21", "7s11", "8s21", "8s11"], "range": [[1, 0], [7, 4], [7, 4], [2, 2.5], [1, 0], [7, 4], [2, 2.5], [1, 0], [7, 4], [2, 2.5], [7, 3, 2, 3]]}}
       }},
      {"mark": {"type": "point", "shape": "circle", "size": 430, "filled": false, "stroke": "#222", "strokeWidth": 1, "opacity": 1},
       "encoding": {"x": {"datum": -11, "type": "quantitative", "axis": {"orient": "top", "values": [-15, -10, -5, 0, 5, 10, 15], "labels": false, "title": null}}, "y": {"datum": 0, "type": "quantitative", "axis": {"orient": "right", "values": [-50, -40, -30, -20, -10, 0], "labels": false, "title": null}}}},
      {"mark": {"type": "text", "text": "|S", "align": "right", "baseline": "middle", "dx": -1, "fontSize": 16},
       "encoding": {"x": {"datum": -11, "type": "quantitative", "axis": null}, "y": {"datum": -5.9, "type": "quantitative", "axis": null}}},
      {"mark": {"type": "text", "text": "21", "align": "left", "baseline": "middle", "dx": 0, "dy": 6, "fontSize": 12},
       "encoding": {"x": {"datum": -11, "type": "quantitative", "axis": null}, "y": {"datum": -5.9, "type": "quantitative", "axis": null}}},
      {"mark": {"type": "text", "text": "|", "align": "left", "baseline": "middle", "dx": 13, "fontSize": 16},
       "encoding": {"x": {"datum": -11, "type": "quantitative", "axis": null}, "y": {"datum": -5.9, "type": "quantitative", "axis": null}}},
      {"mark": {"type": "rect", "fill": "white", "stroke": "#222", "strokeWidth": 1},
       "encoding": {"x": {"datum": 9.4, "type": "quantitative", "axis": null}, "x2": {"datum": 14.44}, "y": {"datum": -34.5, "type": "quantitative", "axis": null}, "y2": {"datum": -48.6}}},
      {"mark": {"type": "rule", "color": "#ff1111", "strokeWidth": 1.5},
       "encoding": {"x": {"datum": 9.95, "type": "quantitative", "axis": null}, "x2": {"datum": 12.55}, "y": {"datum": -37.3, "type": "quantitative", "axis": null}}},
      {"mark": {"type": "rule", "color": "#111111", "strokeWidth": 1.5, "strokeDash": [7, 4]},
       "encoding": {"x": {"datum": 9.95, "type": "quantitative", "axis": null}, "x2": {"datum": 12.55}, "y": {"datum": -41.6, "type": "quantitative", "axis": null}}},
      {"mark": {"type": "rule", "color": "#1515ff", "strokeWidth": 1.5, "strokeDash": [2, 2.5]},
       "encoding": {"x": {"datum": 9.95, "type": "quantitative", "axis": null}, "x2": {"datum": 12.55}, "y": {"datum": -46.1, "type": "quantitative", "axis": null}}},
      {"mark": {"type": "text", "text": "#4", "align": "left", "baseline": "middle", "fontSize": 15},
       "encoding": {"x": {"datum": 12.83, "type": "quantitative", "axis": null}, "y": {"datum": -37.3, "type": "quantitative", "axis": null}}},
      {"mark": {"type": "text", "text": "#5", "align": "left", "baseline": "middle", "fontSize": 15},
       "encoding": {"x": {"datum": 12.83, "type": "quantitative", "axis": null}, "y": {"datum": -41.6, "type": "quantitative", "axis": null}}},
      {"mark": {"type": "text", "text": "#6", "align": "left", "baseline": "middle", "fontSize": 15},
       "encoding": {"x": {"datum": 12.83, "type": "quantitative", "axis": null}, "y": {"datum": -46.1, "type": "quantitative", "axis": null}}}
    ],
    "resolve": {"axis": {"x": "independent", "y": "independent"}}
  },
  {
    "width": 423, "height": 225,
    "title": {"text": "(e)", "orient": "bottom", "font": "Liberation Serif", "fontSize": 24, "fontWeight": "normal", "color": "#222", "offset": 8},
    "data": {"values": [{}]},
    "layer": [
      {"data": {"name": "curves"}, "transform": [{"filter": {"field": "s", "oneOf": ["7s21", "7s11", "8s21", "8s11"]}}],
       "mark": {"type": "line", "clip": true, "strokeWidth": 1.5, "interpolate": "monotone"},
       "encoding": {
         "x": {"field": "x", "type": "quantitative", "scale": {"domain": [-15, 15], "nice": false, "zero": false}, "axis": {"values": [-15, -10, -5, 0, 5, 10, 15], "title": "Normalized frequency (Ω)", "labelPadding": 9.5, "titlePadding": 2.5, "labelFlush": false, "labelOverlap": false, "encode": {"labels": {"update": {"dx": {"signal": "datum.value < 0 ? -6 : 0"}}}}}},
         "y": {"field": "y", "type": "quantitative", "scale": {"domain": [-50, 3], "nice": false, "zero": false}, "axis": {"values": [-50, -40, -30, -20, -10, 0], "title": "Amplitude (dB)", "labelPadding": 8, "titlePadding": 9, "labelOverlap": false}},
         "color": {"field": "s", "type": "nominal", "legend": null, "scale": {"domain": ["1s21", "1s11", "2s21", "3s21", "4s21", "5s21", "6s21", "7s21", "7s11", "8s21", "8s11"], "range": ["#ff1111", "#111111", "#111111", "#1515ff", "#ff1111", "#111111", "#1515ff", "#ff1111", "#111111", "#1515ff", "#109a50"]}},
         "strokeDash": {"field": "s", "type": "nominal", "legend": null, "scale": {"domain": ["1s21", "1s11", "2s21", "3s21", "4s21", "5s21", "6s21", "7s21", "7s11", "8s21", "8s11"], "range": [[1, 0], [7, 4], [7, 4], [2, 2.5], [1, 0], [7, 4], [2, 2.5], [1, 0], [7, 4], [2, 2.5], [7, 3, 2, 3]]}}
       }},
      {"mark": {"type": "point", "shape": "circle", "size": 430, "filled": false, "stroke": "#222", "strokeWidth": 1, "opacity": 1},
       "encoding": {"x": {"datum": -11, "type": "quantitative", "axis": {"orient": "top", "values": [-15, -10, -5, 0, 5, 10, 15], "labels": false, "title": null}}, "y": {"datum": 0, "type": "quantitative", "axis": {"orient": "right", "values": [-50, -40, -30, -20, -10, 0], "labels": false, "title": null}}}},
      {"mark": {"type": "point", "shape": "circle", "size": 430, "filled": false, "stroke": "#222", "strokeWidth": 1, "opacity": 1},
       "encoding": {"x": {"datum": -11, "type": "quantitative", "axis": null}, "y": {"datum": -21.6, "type": "quantitative", "axis": null}}},
      {"mark": {"type": "text", "text": "|S", "align": "right", "baseline": "middle", "dx": -1, "fontSize": 16},
       "encoding": {"x": {"datum": -11, "type": "quantitative", "axis": null}, "y": {"datum": -6.4, "type": "quantitative", "axis": null}}},
      {"mark": {"type": "text", "text": "21", "align": "left", "baseline": "middle", "dx": 0, "dy": 6, "fontSize": 12},
       "encoding": {"x": {"datum": -11, "type": "quantitative", "axis": null}, "y": {"datum": -6.4, "type": "quantitative", "axis": null}}},
      {"mark": {"type": "text", "text": "|", "align": "left", "baseline": "middle", "dx": 13, "fontSize": 16},
       "encoding": {"x": {"datum": -11, "type": "quantitative", "axis": null}, "y": {"datum": -6.4, "type": "quantitative", "axis": null}}},
      {"mark": {"type": "text", "text": "|S", "align": "right", "baseline": "middle", "dx": -1, "fontSize": 16},
       "encoding": {"x": {"datum": -11, "type": "quantitative", "axis": null}, "y": {"datum": -15.4, "type": "quantitative", "axis": null}}},
      {"mark": {"type": "text", "text": "11", "align": "left", "baseline": "middle", "dx": 0, "dy": 6, "fontSize": 12},
       "encoding": {"x": {"datum": -11, "type": "quantitative", "axis": null}, "y": {"datum": -15.4, "type": "quantitative", "axis": null}}},
      {"mark": {"type": "text", "text": "|", "align": "left", "baseline": "middle", "dx": 13, "fontSize": 16},
       "encoding": {"x": {"datum": -11, "type": "quantitative", "axis": null}, "y": {"datum": -15.4, "type": "quantitative", "axis": null}}},
      {"mark": {"type": "rect", "fill": "white", "stroke": "#222", "strokeWidth": 1},
       "encoding": {"x": {"datum": 9.4, "type": "quantitative", "axis": null}, "x2": {"datum": 14.44}, "y": {"datum": -38.8, "type": "quantitative", "axis": null}, "y2": {"datum": -48.75}}},
      {"mark": {"type": "rule", "color": "#ff1111", "strokeWidth": 1.5},
       "encoding": {"x": {"datum": 9.95, "type": "quantitative", "axis": null}, "x2": {"datum": 12.55}, "y": {"datum": -40.9, "type": "quantitative", "axis": null}}},
      {"mark": {"type": "rule", "color": "#111111", "strokeWidth": 1.5, "strokeDash": [7, 4]},
       "encoding": {"x": {"datum": 9.95, "type": "quantitative", "axis": null}, "x2": {"datum": 12.55}, "y": {"datum": -42.2, "type": "quantitative", "axis": null}}},
      {"mark": {"type": "rule", "color": "#1515ff", "strokeWidth": 1.5, "strokeDash": [2, 2.5]},
       "encoding": {"x": {"datum": 9.95, "type": "quantitative", "axis": null}, "x2": {"datum": 12.55}, "y": {"datum": -45.1, "type": "quantitative", "axis": null}}},
      {"mark": {"type": "rule", "color": "#109a50", "strokeWidth": 1.5, "strokeDash": [7, 3, 2, 3]},
       "encoding": {"x": {"datum": 9.95, "type": "quantitative", "axis": null}, "x2": {"datum": 12.55}, "y": {"datum": -46.5, "type": "quantitative", "axis": null}}},
      {"mark": {"type": "text", "text": "#7", "align": "left", "baseline": "middle", "fontSize": 15},
       "encoding": {"x": {"datum": 12.83, "type": "quantitative", "axis": null}, "y": {"datum": -41.6, "type": "quantitative", "axis": null}}},
      {"mark": {"type": "text", "text": "#8", "align": "left", "baseline": "middle", "fontSize": 15},
       "encoding": {"x": {"datum": 12.83, "type": "quantitative", "axis": null}, "y": {"datum": -45.9, "type": "quantitative", "axis": null}}}
    ],
    "resolve": {"axis": {"x": "independent", "y": "independent"}}
  }
]
}
